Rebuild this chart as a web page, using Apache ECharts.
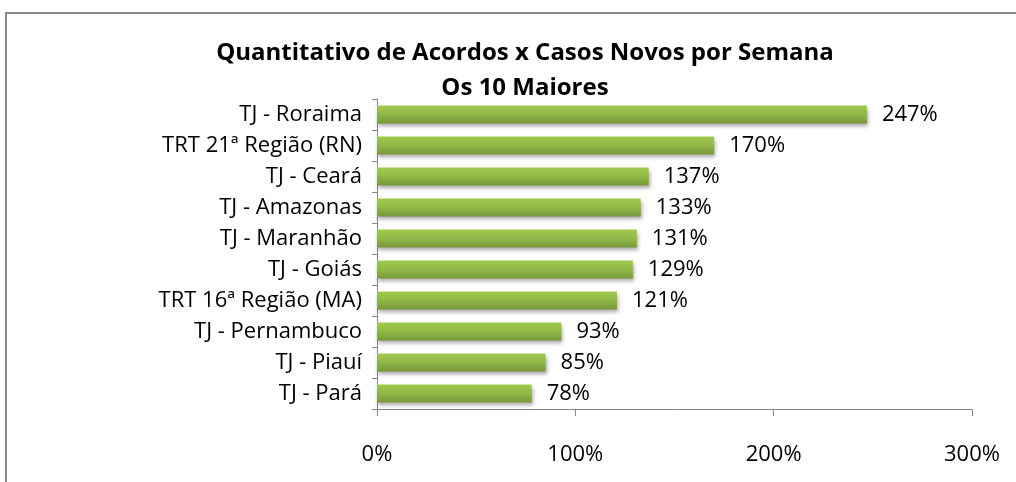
<!DOCTYPE html>
<html>
<head>
<meta charset="utf-8">
<script src="https://cdn.jsdelivr.net/npm/echarts@6/dist/echarts.min.js"></script>
<style>
  html, body { margin: 0; padding: 0; background: #fff; }
  #chart { width: 1016px; height: 482px; }
</style>
</head>
<body>
<div id="chart"></div>
<script>
// data (bottom to top, as the y axis draws it)
var categories = ['TJ - Pará', 'TJ - Piauí', 'TJ - Pernambuco', 'TRT 16ª Região (MA)', 'TJ - Goiás',
    'TJ - Maranhão', 'TJ - Amazonas', 'TJ - Ceará', 'TRT 21ª Região (RN)', 'TJ - Roraima'];
var values = [78, 85, 93, 121, 129, 131, 133, 137, 170, 247];
var titleLines = ['Quantitativo de Acordos x Casos Novos por Semana', 'Os 10 Maiores'];

var fontFam = '"Open Sans", "Noto Sans", sans-serif';

var chart = echarts.init(document.getElementById('chart'));

var option = {
    animation: false,
    backgroundColor: '#ffffff',
    title: {
        text: titleLines.join('\n'),
        left: 520,
        top: 31,
        textAlign: 'center',
        textStyle: {
            fontFamily: fontFam,
            fontSize: 24,
            fontWeight: 'bold',
            color: '#000',
            lineHeight: 35
        }
    },
    // outer frame of the chart area
    graphic: [{
        type: 'rect',
        shape: { x: 6, y: 13, width: 1200, height: 1000 },
        style: { fill: 'none', stroke: '#8a8a8a', lineWidth: 2 },
        silent: true
    }],
    grid: {
        left: 377,
        right: 44,
        top: 99,
        bottom: 73
    },
    xAxis: {
        type: 'value',
        min: 0,
        max: 300,
        interval: 100,
        axisLine: { show: true, lineStyle: { color: '#868686', width: 1 } },
        axisTick: { show: true, length: 7, lineStyle: { color: '#868686' } },
        splitLine: { show: false },
        axisLabel: {
            margin: 35,
            formatter: '{value}%',
            fontFamily: fontFam,
            fontSize: 22,
            color: '#000'
        }
    },
    yAxis: {
        type: 'category',
        data: categories,
        axisLine: { show: true, lineStyle: { color: '#868686', width: 1 } },
        axisTick: { show: true, length: 5, lineStyle: { color: '#868686' } },
        axisLabel: {
            margin: 15,
            fontFamily: fontFam,
            fontSize: 22,
            color: '#000'
        }
    },
    series: [{
        type: 'bar',
        data: values,
        barWidth: '58%',
        itemStyle: {
            color: new echarts.graphic.LinearGradient(0, 0, 0, 1, [
                { offset: 0, color: '#a0ca4f' },
                { offset: 0.5, color: '#90b846' },
                { offset: 1, color: '#77983a' }
            ]),
            shadowColor: 'rgba(0,0,0,0.35)',
            shadowBlur: 4,
            shadowOffsetY: 3,
            shadowOffsetX: 1
        },
        label: {
            show: true,
            position: 'right',
            distance: 15,
            formatter: '{c}%',
            fontFamily: fontFam,
            fontSize: 22,
            color: '#000'
        }
    }]
};

chart.setOption(option);
</script>
</body>
</html>
